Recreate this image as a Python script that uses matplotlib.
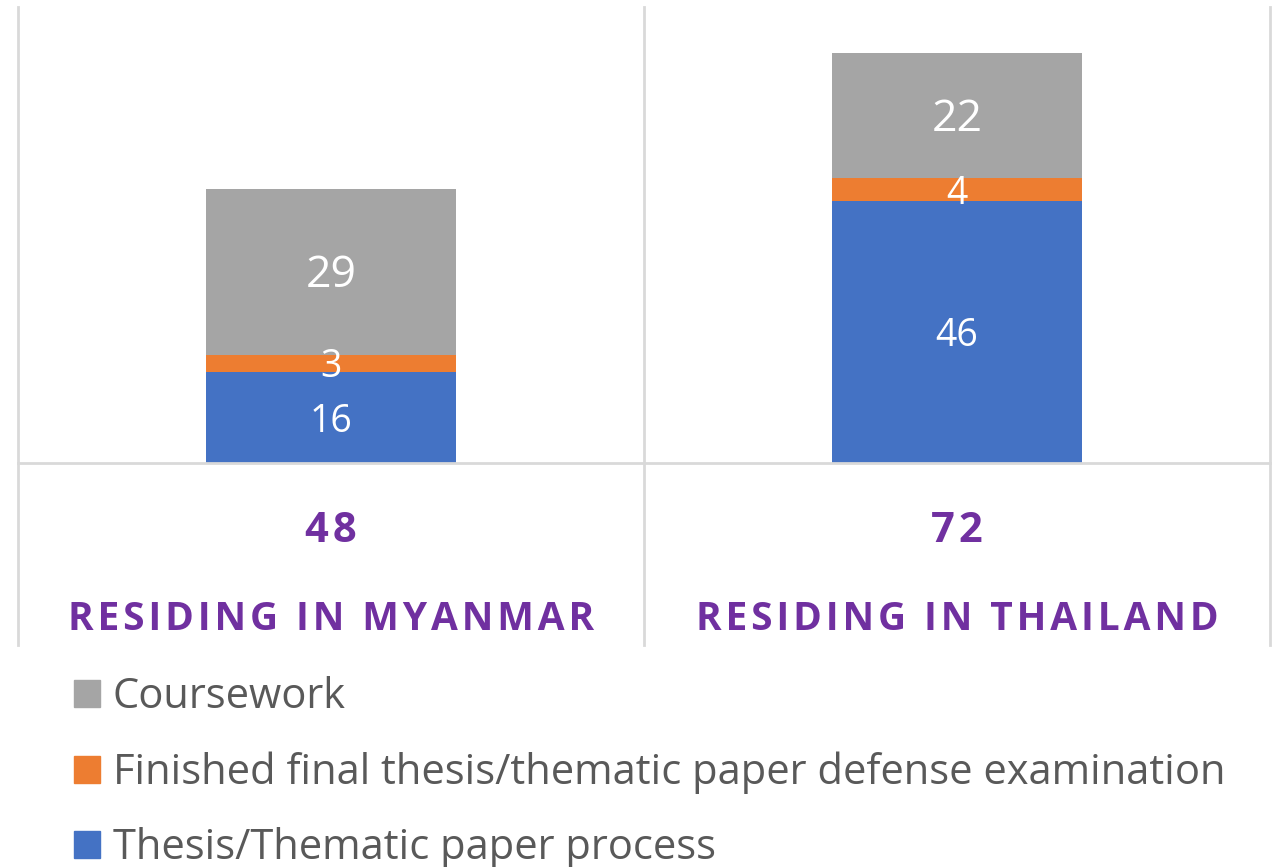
import numpy as np
import matplotlib
matplotlib.use("Agg")
import matplotlib.pyplot as plt
from matplotlib.transforms import blended_transform_factory
from matplotlib.patches import Patch

plt.rcParams["font.family"] = ["Open Sans", "DejaVu Sans"]

categories = ["RESIDING IN MYANMAR", "RESIDING IN THAILAND"]
thesis_process = [16, 46]
finished_defense = [3, 4]
coursework = [29, 22]
totals = [48, 72]

COLORS = {"thesis": "#4472C4", "defense": "#ED7D31", "course": "#A5A5A5"}
PURPLE = "#7030A0"
GRID = "#D9D9D9"

W, H = 1281, 867
fig = plt.figure(figsize=(W / 100, H / 100), dpi=100)
ax = fig.add_axes([18 / W, 1 - 463 / H, (1270 - 18) / W, (463 - 7) / H])

x = np.arange(len(categories))
bw = 0.40
b1 = ax.bar(x, thesis_process, bw, color=COLORS["thesis"])
b2 = ax.bar(x, finished_defense, bw, bottom=thesis_process, color=COLORS["defense"])
bottom3 = np.array(thesis_process) + np.array(finished_defense)
b3 = ax.bar(x, coursework, bw, bottom=bottom3, color=COLORS["course"])

labels_small = ax.bar_label(b1, label_type="center", color="white", fontsize=27)
labels_small += ax.bar_label(b2, label_type="center", color="white", fontsize=27)
labels_big = ax.bar_label(b3, label_type="center", color="white", fontsize=32)
for t in labels_small + labels_big:
    t.xyann = (0, -3)

ax.set_xlim(-0.5, 1.5)
ax.set_ylim(0, 80)
ax.axis("off")
ax.axhline(0, color=GRID, lw=2, clip_on=False)

# table-like vertical separators running down through the label rows
tr = blended_transform_factory(ax.transData, fig.transFigure)
for xv in [-0.5, 0.5, 1.5]:
    ax.plot([xv, xv], [1 - 645 / H, 1 - 7 / H], color=GRID, lw=2,
            transform=tr, clip_on=False)


def spaced(s, sep="\u200a"):
    return sep.join(s)


for i in range(len(categories)):
    ax.text(x[i], 1 - 531 / H, spaced(str(totals[i])), transform=tr, ha="center",
            va="center", fontsize=30, fontweight="bold", color=PURPLE)
    ax.text(x[i], 1 - 620 / H, spaced(categories[i]), transform=tr, ha="center",
            va="center", fontsize=28, fontweight="bold", color=PURPLE)

handles = [Patch(color=COLORS["course"]), Patch(color=COLORS["defense"]),
           Patch(color=COLORS["thesis"])]
labels = ["Coursework", "Finished final thesis/thematic paper defense examination",
          "Thesis/Thematic paper process"]
fig.legend(handles, labels, loc="upper left", bbox_to_anchor=(74 / W, 1 - 676 / H),
           frameon=False, fontsize=30, labelcolor="#595959",
           handlelength=0.62, handleheight=0.62, handletextpad=0.31,
           labelspacing=0.8, borderpad=0, borderaxespad=0)

fig.savefig("out.png", dpi=100)
